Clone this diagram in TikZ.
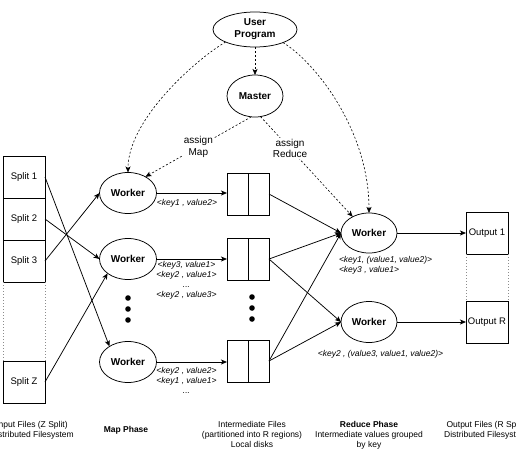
\documentclass[tikz,border=0pt]{standalone}
\usepackage{fontspec}
\setmainfont{Liberation Sans}
\usetikzlibrary{arrows.meta,shapes.geometric}
\begin{document}
\begin{tikzpicture}[x=1pt,y=-1pt,
  every node/.style={inner sep=0pt, outer sep=0pt},
  ln/.style={line width=0.75pt},
  arr/.style={ln, -{Stealth[length=6pt,width=5pt,inset=1.5pt]}},
  dsh/.style={line width=0.6pt, dash pattern=on 2pt off 2pt, -{Stealth[length=6pt,width=5pt,inset=1.5pt]}},
  wk/.style={draw, ln, ellipse, minimum width=57pt, minimum height=41pt, font=\fontsize{10}{12}\selectfont\bfseries},
  sbox/.style={draw, ln, rectangle, minimum width=42pt, minimum height=42pt, font=\fontsize{9.5}{11}\selectfont},
  ibox/.style={draw, ln, rectangle, minimum width=42pt, minimum height=42pt},
  klbl/.style={font=\fontsize{8.5}{10}\selectfont\itshape},
  blbl/.style={font=\fontsize{8.5}{10}\selectfont, align=center},
  albl/.style={font=\fontsize{10}{11.5}\selectfont, align=center, fill=white, inner sep=1pt},
  gdot/.style={draw=black!45, line width=0.6pt, dash pattern=on 1pt off 2pt},
  bigdot/.style={fill=black, circle, minimum size=5.6pt}
]
\path[use as bounding box, clip] (0,0) rectangle (516,456);

% top
\node[wk, minimum width=84pt, minimum height=35pt, align=center] (up) at (255,29.5) {User\\Program};
\node[wk, minimum width=56pt, minimum height=42pt] (m) at (255,96) {Master};

% splits
\node[sbox] (s1) at (24,177) {Split 1};
\node[sbox] (s2) at (24,219) {Split 2};
\node[sbox] (s3) at (24,261) {Split 3};
\node[sbox] (sz) at (24,382) {Split Z};
\draw[gdot] (s3.south west) -- (sz.north west);
\draw[gdot] (s3.south east) -- (sz.north east);

% map workers
\node[wk] (w1) at (128,193) {Worker};
\node[wk] (w2) at (128,259) {Worker};
\node[wk] (w3) at (128,362) {Worker};
\node[bigdot] (d1) at (128,298) {};
\node[bigdot] (d2) at (128,309) {};
\node[bigdot] (d3) at (128,320) {};

% intermediate boxes
\node[ibox] (b1) at (248,194) {};
\node[ibox] (b2) at (248,259) {};
\node[ibox] (b3) at (248,361) {};
\draw[ln] (b1.north) -- (b1.south);
\draw[ln] (b2.north) -- (b2.south);
\draw[ln] (b3.north) -- (b3.south);
\node[bigdot] (e1) at (252,297) {};
\node[bigdot] (e2) at (252,308) {};
\node[bigdot] (e3) at (252,319) {};

% reduce workers
\node[wk, minimum width=56pt, minimum height=40pt] (r1) at (369,233) {Worker};
\node[wk, minimum width=56pt, minimum height=41pt] (r2) at (369,322) {Worker};

% outputs
\node[sbox] (o1) at (487,233) {Output 1};
\node[sbox] (oR) at (487,322) {Output R};
\draw[gdot] (o1.south west) -- (oR.north west);
\draw[gdot] (o1.south east) -- (oR.north east);

% split -> worker
\draw[arr] (s1.east) -- (w3.140);
\draw[arr] (s2.east) -- (w2.west);
\draw[arr] (s3.east) -- (w1.west);
\draw[arr] (sz.east) -- (w2.215);

% worker -> box
\draw[arr] (w1.east) -- (w1.east -| b1.west);
\draw[arr] (w2.east) -- (b2.west);
\draw[arr] (w3.east) -- (w3.east -| b3.west);

% box -> reduce
\draw[arr] (b1.east) -- (r1.west);
\draw[arr] (b2.east) -- (r1.west);
\draw[arr] (b2.east) -- (r2.west);
\draw[arr] (b3.east) -- (r1.west);
\draw[arr] (b3.east) -- (r2.west);

% reduce -> output
\draw[arr] (r1.east) -- (o1.west);
\draw[arr] (r2.east) -- (oR.west);

% dashed control
\draw[dsh] (up.south) -- (m.north);
\draw[dsh] (up.203) .. controls (195,60) and (128,120) .. (w1.north);
\draw[dsh] (up.335) .. controls (315,62) and (369,130) .. (r1.north);
\draw[dsh] (m.260) -- (w1.43) node[albl, pos=0.5] (am) {assign\\Map};
\draw[dsh] (m.285) -- (r1.135) node[albl, pos=0.32] (ar) {assign\\Reduce};

% key labels
\node[klbl, align=center] (k1) at (187,203) {<key1 , value2>};
\node[klbl, align=center] (k2) at (186.5,280) {<key3, value1>\\<key2 , value1>\\...\\<key2 , value3>};
\node[klbl, align=center] (k3) at (186.5,380.5) {<key2 , value2>\\<key1 , value1>\\...};
\node[klbl, align=left, anchor=west] (k4) at (339,265.5) {<key1, (value1, value2)>\\<key3 , value1>};
\node[klbl] (k5) at (380.5,354) {<key2 , (value3, value1, value2)>};

% bottom labels
\node[blbl] (li) at (32,430) {Input Files (Z Split)\\Distributed Filesystem};
\node[blbl, font=\fontsize{8.5}{10}\selectfont\bfseries] (lm) at (126,430) {Map Phase};
\node[blbl] (lf) at (252,434) {Intermediate Files\\(partitioned into R regions)\\Local disks};
\node[blbl] (lr) at (369,435) {\textbf{Reduce Phase}\\Intermediate values grouped\\by key};
\node[blbl] (lo) at (486,430) {Output Files (R Split)\\Distributed Filesystem};
\end{tikzpicture}
\end{document}
